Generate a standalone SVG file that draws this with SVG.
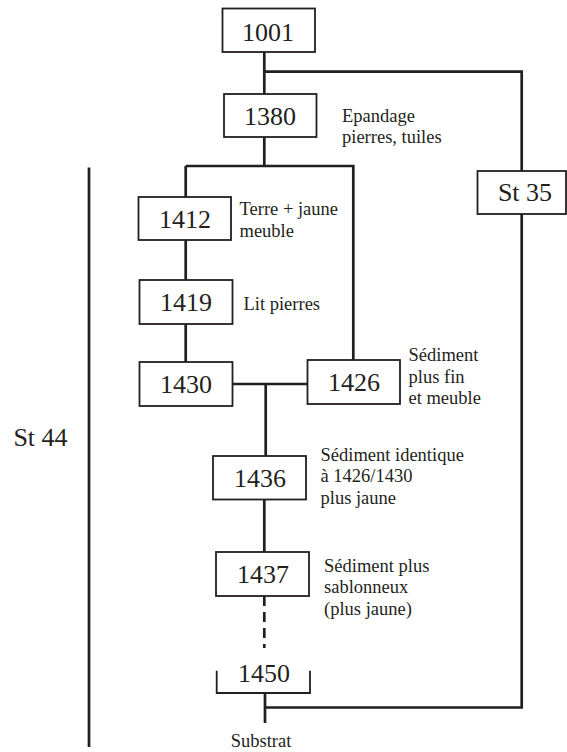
<svg xmlns="http://www.w3.org/2000/svg" width="567" height="752" viewBox="0 0 567 752">
<style>
.box{fill:#fff;stroke:#231f20;stroke-width:1.8}
.brk{fill:none;stroke:#231f20;stroke-width:1.8}
.con{fill:none;stroke:#231f20;stroke-width:2.7}
.dash{stroke-dasharray:10,6}
.num{font-family:'Liberation Serif','Times New Roman',serif;font-size:26px;fill:#231f20;text-anchor:middle}
.lab{font-family:'Liberation Serif','Times New Roman',serif;font-size:18.5px;fill:#231f20}
</style>
<rect width="567" height="752" fill="#fff"/>
<g id="connectors">
<path class="con" d="M264.3,52 V94"/>
<path class="con" d="M264.3,71.7 H521.7 V171"/>
<path class="con" d="M521.7,214 V707.5 H265"/>
<path class="con" d="M264.3,137 V166"/>
<path class="con" d="M185.7,166 H353.3 V360"/>
<path class="con" d="M185.7,166 V197"/>
<path class="con" d="M185.7,240 V280"/>
<path class="con" d="M185.7,324 V362"/>
<path class="con" d="M232.7,384 H307.3"/>
<path class="con" d="M265.7,384 V456"/>
<path class="con" d="M264.3,500 V552"/>
<path class="con dash" d="M264.3,596 V648"/>
<path class="con" d="M265,693 V723"/>
<path class="con" d="M89,167.5 V747"/>
</g>
<g id="n1001"><rect class="box" x="222.5" y="8.5" width="92.5" height="43.5"/><text class="num" x="268" y="41">1001</text></g>
<g id="n1380"><rect class="box" x="224" y="94" width="92.5" height="43"/><text class="num" x="270" y="125">1380</text><text class="lab" x="342" y="121.5">Epandage</text><text class="lab" x="342" y="143">pierres, tuiles</text></g>
<g id="n1412"><rect class="box" x="138.5" y="197" width="92.5" height="43"/><text class="num" x="185" y="228">1412</text><text class="lab" x="239.5" y="215">Terre + jaune</text><text class="lab" x="239.5" y="236.5">meuble</text></g>
<g id="n1419"><rect class="box" x="139.5" y="280" width="93" height="44"/><text class="num" x="186" y="311">1419</text><text class="lab" x="243.5" y="310">Lit pierres</text></g>
<g id="n1430"><rect class="box" x="139.5" y="362" width="93" height="44"/><text class="num" x="186" y="393">1430</text></g>
<g id="n1426"><rect class="box" x="307.5" y="360" width="92.5" height="44"/><text class="num" x="354" y="391">1426</text><text class="lab" x="408.5" y="361">Sédiment</text><text class="lab" x="408.5" y="382.5">plus fin</text><text class="lab" x="408.5" y="404">et meuble</text></g>
<g id="n1436"><rect class="box" x="213" y="456" width="93" height="43.5"/><text class="num" x="260" y="487">1436</text><text class="lab" x="320.5" y="460.5">Sédiment identique</text><text class="lab" x="320.5" y="482.3">à 1426/1430</text><text class="lab" x="320.5" y="504">plus jaune</text></g>
<g id="n1437"><rect class="box" x="216" y="552" width="93" height="44"/><text class="num" x="263" y="583">1437</text><text class="lab" x="324" y="571.7">Sédiment plus</text><text class="lab" x="324" y="593.3">sablonneux</text><text class="lab" x="324" y="615">(plus jaune)</text></g>
<g id="n1450"><path class="brk" d="M216.7,670.7 V693 H310 V670.7"/><text class="num" x="264" y="682">1450</text></g>
<g id="nSubstrat"><text class="lab" x="261" y="746.5" text-anchor="middle">Substrat</text></g>
<g id="nSt35"><rect class="box" x="477.5" y="171" width="88.5" height="43"/><text class="num" x="525" y="201">St 35</text></g>
<g id="nSt44"><text class="num" x="40.5" y="446">St 44</text></g>
</svg>
